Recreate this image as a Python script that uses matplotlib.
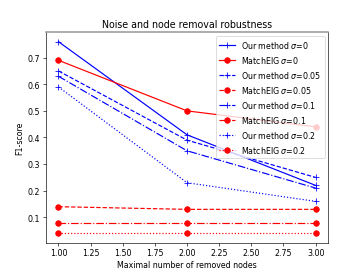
import matplotlib
matplotlib.use("Agg")
import matplotlib.pyplot as plt

x = [1, 2, 3]
ours_s0 = [0.76, 0.41, 0.22]
eig_s0 = [0.69, 0.50, 0.44]
ours_s005 = [0.65, 0.39, 0.25]
eig_s005 = [0.14, 0.13, 0.13]
ours_s01 = [0.63, 0.35, 0.21]
eig_s01 = [0.08, 0.08, 0.08]
ours_s02 = [0.59, 0.23, 0.16]
eig_s02 = [0.04, 0.04, 0.04]

fig = plt.figure(figsize=(6.4, 4.8), dpi=57.03)
ax = fig.add_subplot(111)
ms = 7
ax.plot(x, ours_s0, 'b-', marker='+', markersize=ms, label=r'Our method $\sigma$=0')
ax.plot(x, eig_s0, 'r-', marker='o', markersize=ms, label=r'MatchEIG $\sigma$=0')
ax.plot(x, ours_s005, 'b--', marker='+', markersize=ms, label=r'Our method $\sigma$=0.05')
ax.plot(x, eig_s005, 'r--', marker='o', markersize=ms, label=r'MatchEIG $\sigma$=0.05')
ax.plot(x, ours_s01, 'b-.', marker='+', markersize=ms, label=r'Our method $\sigma$=0.1')
ax.plot(x, eig_s01, 'r-.', marker='o', markersize=ms, label=r'MatchEIG $\sigma$=0.1')
ax.plot(x, ours_s02, 'b:', marker='+', markersize=ms, label=r'Our method $\sigma$=0.2')
ax.plot(x, eig_s02, 'r:', marker='o', markersize=ms, label=r'MatchEIG $\sigma$=0.2')
ax.set_xlabel('Maximal number of removed nodes')
ax.set_ylabel('F1-score')
ax.set_title('Noise and node removal robustness')
ax.spines['top'].set_color('#999999')
ax.spines['top'].set_linewidth(2)
ax.legend(loc='upper right')
fig.savefig('out.png', dpi=57.03)
